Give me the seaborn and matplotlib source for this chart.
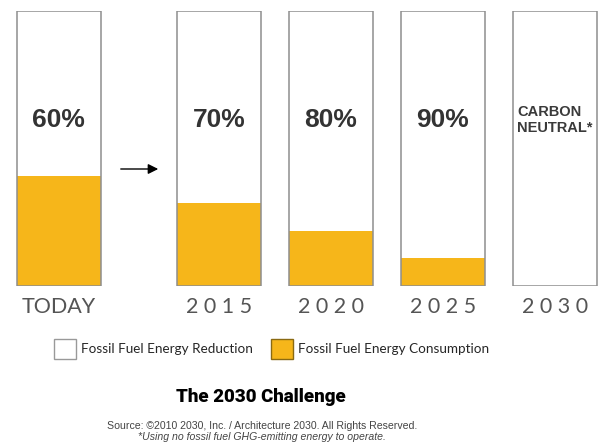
import numpy as np
import pandas as pd
import seaborn as sns
import matplotlib.pyplot as plt
from matplotlib.patches import Patch, FancyArrowPatch

# data
categories = ["TODAY", "2015", "2020", "2025", "2030"]
reduction = [60, 70, 80, 90, 100]
consumption = [40, 30, 20, 10, 0]
bar_text = ["60%", "70%", "80%", "90%", "CARBON\nNEUTRAL*"]

yellow = "#F6B61A"
edge = "#8E8E8E"

sns.set_theme(style="white")
plt.rcParams["font.family"] = ["Liberation Sans", "DejaVu Sans"]

# TODAY sits a bit further left than the yearly bars
pos = np.arange(len(categories), dtype=float) - 1.0
pos[0] -= 0.43

df = pd.DataFrame({"pos": pos, "cat": categories,
                   "reduction": reduction, "consumption": consumption})
df["total"] = df["reduction"] + df["consumption"]

fig = plt.figure(figsize=(6.02, 4.46), dpi=100)
ax = fig.add_axes([0, 160 / 446, 1, 275.5 / 446])

sns.barplot(data=df, x="pos", y="total", native_scale=True, color="white",
            saturation=1, width=0.75, errorbar=None, linewidth=0, ax=ax)
sns.barplot(data=df, x="pos", y="consumption", native_scale=True, color=yellow,
            saturation=1, width=0.75, errorbar=None, linewidth=0, ax=ax)
sns.barplot(data=df, x="pos", y="total", native_scale=True, color=edge,
            fill=False, width=0.75, errorbar=None, linewidth=1.1, ax=ax)

ax.set_xlim(-1.955, 3.42)
ax.set_ylim(0, 100)
ax.set_yticks([])
ax.set_xticks(pos)
ax.set_xticklabels([c if not c.isdigit() else " ".join(c) for c in categories],
                   fontsize=15.5, color="#555555", family=["Lato", "DejaVu Sans"])
ax.tick_params(axis="x", length=0, pad=8)
ax.set_xlabel("")
ax.set_ylabel("")
sns.despine(ax=ax, left=True, bottom=True)

for x, t in zip(pos, bar_text):
    if "\n" in t:
        ax.text(x, 60.3, t, ha="center", va="center", multialignment="left",
                fontsize=10.5, fontweight="bold", color="#3a3a3a", linespacing=1.15)
    else:
        ax.text(x, 60.3, t, ha="center", va="center", fontsize=19,
                fontweight="bold", color="#333333")

# arrow from today to 2015
fig.add_artist(FancyArrowPatch(
    (118 / 602, 1 - 169 / 446), (161 / 602, 1 - 169 / 446),
    transform=fig.transFigure, arrowstyle="-|>", mutation_scale=15,
    color="black", linewidth=1))

handles = [Patch(facecolor="white", edgecolor="#999999", linewidth=1),
           Patch(facecolor=yellow, edgecolor="#8a6a12", linewidth=1)]
fig.legend(handles, ["Fossil Fuel Energy Reduction", "Fossil Fuel Energy Consumption"],
           ncol=2, frameon=False, loc="center", bbox_to_anchor=(0.451, 1 - 349 / 446),
           handlelength=1.65, handleheight=1.9, handletextpad=0.4, columnspacing=1.3,
           prop={"family": "Lato", "size": 9.7})

fig.text(261 / 602, 1 - 397 / 446, "The 2030 Challenge", ha="center", va="center",
         fontsize=13.5, fontweight="heavy", family=["Roboto", "DejaVu Sans"], color="black")
fig.text(262 / 602, 1 - 426 / 446,
         "Source: \u00a92010 2030, Inc. / Architecture 2030. All Rights Reserved.",
         ha="center", va="center", fontsize=7.6, color="#444444")
fig.text(262 / 602, 1 - 437.5 / 446,
         "*Using no fossil fuel GHG-emitting energy to operate.",
         ha="center", va="center", fontsize=7.6, color="#444444", style="italic")

plt.savefig("out.png", dpi=100)
